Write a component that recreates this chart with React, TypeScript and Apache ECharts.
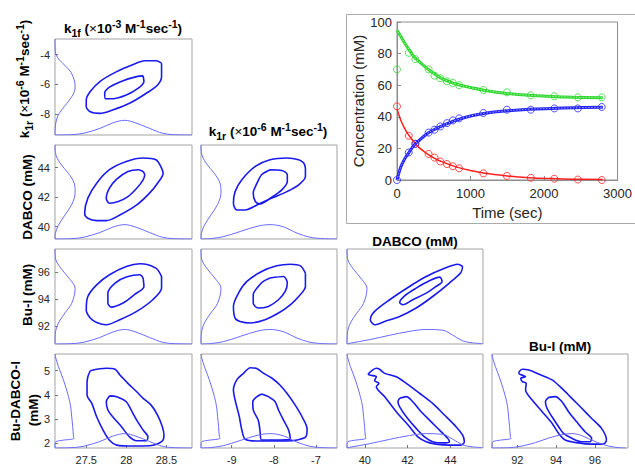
import React, { useEffect, useRef } from "react";
import * as echarts from "echarts";

// ---------- axis ranges ----------
const k1fRange = [27.11, 28.82];
const k1rRowRange = [-9.42, -2.94];
const k1rColRange = [-9.73, -6.5];
const dabcoRange = [39.17, 45.52];
const buiRange = [90.7, 97.7];
const bdiRange = [1.81, 5.69];

// ---------- marginal densities [value, relative density] ----------
const k1fDensity = [[27.11, 0], [27.3, 0.02], [27.46, 0.11], [27.67, 0.45], [27.83, 0.82], [27.98, 1], [28.12, 0.82], [28.29, 0.45], [28.46, 0.11], [28.66, 0.01], [28.82, 0]];
const k1rColDensity = [[-9.73, 0], [-9.5, 0.03], [-9.2, 0.16], [-8.8, 0.52], [-8.4, 0.88], [-8.09, 1], [-7.77, 0.84], [-7.45, 0.41], [-7.14, 0.12], [-6.8, 0.02], [-6.5, 0]];
const dabcoColDensity = [[39.16, 0], [39.3, 0.05], [40.23, 0.3], [41.16, 0.6], [42.09, 0.87], [42.87, 1], [43.64, 0.95], [44.1, 0.62], [44.57, 0.22], [45.03, 0.08], [45.5, 0.03]];
const buiColDensity = [[90.66, 0], [91.58, 0.02], [92.26, 0.14], [92.94, 0.38], [93.62, 0.69], [94.3, 0.93], [94.81, 1], [95.32, 0.86], [96.0, 0.45], [96.68, 0.14], [97.36, 0.01], [97.6, 0]];

const k1rRowDensity = [[-2.94, 0], [-3.6, 0.01], [-4.0, 0.05], [-4.4, 0.25], [-4.8, 0.55], [-5.2, 0.8], [-5.7, 0.95], [-6.1, 1], [-6.5, 0.96], [-6.9, 0.8], [-7.3, 0.58], [-7.7, 0.35], [-8.1, 0.15], [-8.6, 0.04], [-9.0, 0.01], [-9.42, 0]];
const dabcoRowDensity = [[45.54, 0], [45.0, 0.02], [44.3, 0.25], [43.6, 0.67], [42.95, 0.95], [42.3, 1], [41.5, 0.83], [40.8, 0.5], [40.1, 0.17], [39.55, 0.02], [39.17, 0]];
const buiRowDensity = [[97.7, 0], [97.03, 0.02], [96.2, 0.33], [95.45, 0.75], [94.8, 1], [93.7, 0.83], [93.0, 0.5], [92.25, 0.17], [91.5, 0.02], [90.73, 0]];
const bdiRowDensity = [[5.69, 0], [5.58, 0.02], [5.17, 0.17], [4.62, 0.42], [3.93, 0.67], [3.51, 0.78], [3.1, 0.83], [2.69, 0.88], [2.27, 0.92], [2.21, 0.95], [2.12, 0.3], [2.07, 0.05], [1.93, 0], [1.81, 0]];

// ---------- contours (outer / inner) ----------
const r1c1Outer = [[28.44, -4.57], [28.37, -4.41], [28.23, -4.41], [28.08, -4.68], [27.88, -5.14], [27.67, -5.81], [27.55, -6.49], [27.5, -7.06], [27.5, -7.51], [27.55, -7.85], [27.67, -7.96], [27.83, -7.73], [28.04, -7.28], [28.25, -6.6], [28.39, -6.04], [28.44, -5.48], [28.44, -4.8]];
const r1c1Inner = [[28.21, -5.43], [28.13, -5.48], [27.96, -5.75], [27.79, -6.19], [27.73, -6.6], [27.74, -6.97], [27.83, -6.97], [28.0, -6.72], [28.15, -6.26], [28.22, -5.81]];

const r2c1Outer = [[28.44, 43.96], [28.37, 44.52], [28.21, 44.64], [28.0, 44.41], [27.79, 43.85], [27.63, 42.94], [27.52, 41.93], [27.48, 40.91], [27.52, 40.57], [27.63, 40.41], [27.75, 40.41], [27.92, 40.79], [28.13, 41.47], [28.29, 42.27], [28.39, 42.94], [28.46, 43.62]];
const r2c1Inner = [[28.21, 43.73], [28.15, 43.85], [28.02, 43.73], [27.88, 43.21], [27.79, 42.6], [27.75, 41.93], [27.79, 41.59], [27.9, 41.7], [28.02, 42.03], [28.13, 42.6], [28.21, 43.17], [28.23, 43.51]];
const r2c2Outer = [[-7.25, 43.96], [-7.29, 44.3], [-7.41, 44.52], [-7.69, 44.64], [-8.09, 44.52], [-8.44, 44.07], [-8.76, 43.17], [-8.92, 42.37], [-8.96, 41.59], [-8.88, 41.13], [-8.68, 41.13], [-8.4, 41.47], [-8.05, 41.93], [-7.69, 42.37], [-7.41, 42.83], [-7.25, 43.39]];
const r2c2Inner = [[-8.09, 43.85], [-7.81, 43.8], [-7.68, 43.51], [-7.68, 43.05], [-7.81, 42.49], [-8.05, 41.99], [-8.33, 41.54], [-8.44, 41.7], [-8.49, 42.27], [-8.4, 42.94], [-8.29, 43.51]];

const r3c1Outer = [[28.44, 95.67], [28.37, 96.29], [28.17, 96.61], [28.0, 96.41], [27.79, 95.8], [27.63, 95.06], [27.52, 94.2], [27.5, 93.22], [27.55, 92.61], [27.63, 92.29], [27.75, 92.12], [27.92, 92.49], [28.13, 93.1], [28.33, 93.96], [28.44, 94.82], [28.44, 95.43]];
const r3c1Inner = [[28.21, 95.56], [28.17, 95.8], [28.0, 95.63], [27.86, 95.19], [27.77, 94.45], [27.77, 93.72], [27.81, 93.42], [27.96, 93.72], [28.1, 94.33], [28.22, 94.94]];
const r3c2Outer = [[-7.25, 95.92], [-7.37, 96.46], [-7.61, 96.58], [-7.93, 96.46], [-8.29, 96.04], [-8.64, 95.31], [-8.84, 94.45], [-8.96, 93.47], [-8.92, 92.61], [-8.8, 92.36], [-8.56, 92.25], [-8.21, 92.49], [-7.89, 92.98], [-7.61, 93.59], [-7.41, 94.2], [-7.25, 94.94]];
const r3c2Inner = [[-8.09, 95.56], [-7.77, 95.67], [-7.68, 95.19], [-7.73, 94.57], [-7.89, 93.96], [-8.13, 93.47], [-8.37, 93.35], [-8.49, 93.72], [-8.49, 94.33], [-8.37, 94.94], [-8.25, 95.31]];
const r3c3Outer = [[44.57, 96.41], [44.34, 96.58], [43.64, 96.22], [42.87, 95.67], [42.09, 94.94], [41.16, 93.96], [40.46, 93.1], [40.26, 92.49], [40.46, 92.12], [40.93, 92.36], [41.63, 92.73], [42.4, 93.35], [43.17, 94.2], [43.95, 95.19], [44.49, 95.97]];
const r3c3Inner = [[43.56, 95.56], [43.49, 95.63], [43.02, 95.36], [42.4, 94.82], [41.86, 94.25], [41.63, 93.76], [41.78, 93.59], [42.24, 93.96], [42.87, 94.45], [43.33, 94.94], [43.61, 95.31]];

const r4c1Outer = [[27.55, 5.0], [27.75, 5.1], [27.86, 5.06], [27.92, 4.82], [28.02, 4.48], [28.13, 4.13], [28.21, 3.86], [28.31, 3.58], [28.39, 3.17], [28.45, 2.69], [28.47, 2.34], [28.44, 2.07], [28.29, 1.9], [28.08, 1.89], [27.88, 1.93], [27.79, 2.13], [27.71, 2.55], [27.63, 3.1], [27.57, 3.65], [27.51, 4.0], [27.51, 4.48], [27.52, 4.75]];
const r4c1Inner = [[27.79, 3.96], [27.88, 3.93], [28.0, 3.72], [28.06, 3.38], [28.13, 2.96], [28.21, 2.55], [28.27, 2.27], [28.25, 2.11], [28.13, 2.11], [28.04, 2.27], [27.94, 2.69], [27.83, 3.1], [27.77, 3.38], [27.75, 3.72]];
const r4c2Outer = [[-8.72, 4.89], [-8.55, 5.12], [-8.42, 5.1], [-8.25, 4.9], [-8.05, 4.7], [-7.85, 4.4], [-7.68, 4.05], [-7.5, 3.6], [-7.33, 3.1], [-7.21, 2.6], [-7.24, 2.27], [-7.45, 2.14], [-7.69, 2.1], [-8.09, 2.1], [-8.4, 2.1], [-8.68, 2.17], [-8.76, 2.55], [-8.82, 3.1], [-8.92, 3.79], [-8.96, 4.2], [-8.88, 4.62]];
const r4c2Inner = [[-8.29, 4.04], [-8.13, 3.93], [-7.97, 3.72], [-7.89, 3.38], [-7.77, 2.96], [-7.65, 2.55], [-7.61, 2.17], [-7.85, 2.14], [-8.29, 2.14], [-8.33, 2.55], [-8.37, 2.96], [-8.49, 3.38], [-8.5, 3.72], [-8.4, 3.93]];
const r4c3Outer = [[40.15, 4.86], [40.54, 5.1], [40.69, 5.06], [40.93, 4.89], [41.47, 4.75], [41.94, 4.48], [42.56, 4.07], [43.17, 3.65], [43.72, 3.17], [44.26, 2.69], [44.57, 2.34], [44.65, 2.07], [44.49, 1.93], [43.95, 1.93], [43.33, 1.97], [42.87, 2.07], [42.48, 2.27], [42.09, 2.69], [41.47, 3.31], [40.93, 3.93], [40.54, 4.34], [40.66, 4.48], [40.46, 4.59], [40.54, 4.75], [40.23, 4.82]];
const r4c3Inner = [[41.63, 3.86], [41.94, 3.93], [42.24, 3.72], [42.56, 3.38], [43.02, 2.96], [43.49, 2.55], [43.87, 2.21], [43.95, 2.07], [43.64, 2.02], [43.17, 2.07], [42.79, 2.27], [42.4, 2.62], [41.94, 3.1], [41.63, 3.51], [41.55, 3.72]];
const r4c4Outer = [[92.09, 4.96], [92.26, 5.06], [92.6, 5.03], [93.11, 4.86], [93.79, 4.62], [94.3, 4.27], [94.81, 3.86], [95.32, 3.45], [95.83, 3.03], [96.34, 2.62], [96.59, 2.14], [96.43, 1.97], [95.83, 1.97], [95.15, 2.02], [94.47, 2.14], [94.13, 2.41], [93.79, 2.83], [93.28, 3.31], [92.77, 3.79], [92.43, 4.2], [92.46, 4.48], [92.26, 4.55], [92.18, 4.69], [92.43, 4.75], [92.09, 4.89]];
const r4c4Inner = [[93.62, 3.9], [93.96, 3.93], [94.3, 3.72], [94.64, 3.31], [95.06, 2.89], [95.49, 2.48], [95.83, 2.21], [95.75, 2.07], [95.32, 2.07], [94.81, 2.21], [94.38, 2.41], [94.13, 2.69], [93.79, 3.1], [93.53, 3.45], [93.45, 3.72]];

// ---------- inset: concentration vs time ----------
const sampleTimes = [0, 160, 250, 430, 510, 590, 680, 760, 845, 1175, 1495, 1820, 2140, 2460, 2785];
const buIMeasured = [70, 80.5, 76.5, 70, 66, 64.4, 62.5, 61.4, 60, 57, 55.5, 53.6, 53, 52.3, 52.3];
const dabcoMeasured = [46.6, 28, 22.9, 16.5, 14.2, 11.7, 10.1, 8.7, 7.4, 4.2, 2.6, 1.4, 0.8, 0.3, 0];
const productMeasured = [0, 17.4, 22.9, 30, 31.8, 33.9, 36, 37.7, 39, 42.4, 44.5, 44.5, 45.3, 45.3, 46.2];

const fitTimes = [0, 50, 100, 150, 200, 250, 300, 400, 500, 600, 700, 800, 1000, 1200, 1500, 1800, 2100, 2400, 2800];
const buIFit = [95, 91, 87, 83.5, 80, 77, 75, 71, 67.5, 64.5, 62.5, 60.8, 58.5, 56.7, 54.8, 53.6, 52.9, 52.4, 52];
const dabcoFit = [45, 38, 33, 29, 26, 23, 20.5, 17, 14, 11.8, 10, 8.3, 6, 4.2, 2.6, 1.5, 0.9, 0.5, 0.3];
const productFit = [0, 8, 13, 16.5, 20, 23, 25, 29, 31.8, 34, 36, 37.8, 40.5, 42.3, 43.8, 44.8, 45.3, 45.7, 46];

// ---------- layout / style ----------
const FONT = "Liberation Sans, Arial, Helvetica, sans-serif";
const colLeft = [55, 201, 347, 492];
const colWidth = [137, 136, 136, 136];
const rowTop = [39, 145, 249, 354];
const rowHeight = [96, 94, 95, 94];

const colVars = [
  { range: k1fRange, density: k1fDensity, split: 3 },
  { range: k1rColRange, density: k1rColDensity, split: 3 },
  { range: dabcoRange, density: dabcoColDensity, split: 3 },
  { range: buiRange, density: buiColDensity, split: 3 },
];
const rowVars = [
  { range: k1rRowRange, density: k1rRowDensity, split: 3 },
  { range: dabcoRange, density: dabcoRowDensity, split: 3 },
  { range: buiRange, density: buiRowDensity, split: 3 },
  { range: bdiRange, density: bdiRowDensity, split: 4 },
];

const panels = [
  { r: 0, c: 0, outer: r1c1Outer, inner: r1c1Inner },
  { r: 1, c: 0, outer: r2c1Outer, inner: r2c1Inner },
  { r: 1, c: 1, outer: r2c2Outer, inner: r2c2Inner },
  { r: 2, c: 0, outer: r3c1Outer, inner: r3c1Inner },
  { r: 2, c: 1, outer: r3c2Outer, inner: r3c2Inner },
  { r: 2, c: 2, outer: r3c3Outer, inner: r3c3Inner },
  { r: 3, c: 0, outer: r4c1Outer, inner: r4c1Inner },
  { r: 3, c: 1, outer: r4c2Outer, inner: r4c2Inner },
  { r: 3, c: 2, outer: r4c3Outer, inner: r4c3Inner },
  { r: 3, c: 3, outer: r4c4Outer, inner: r4c4Inner },
];

const rich = {
  b: { fontWeight: "bold", fontSize: 13.5, lineHeight: 20, verticalAlign: "middle", fontFamily: FONT, color: "#000" },
  n: { fontWeight: "normal", fontSize: 13.5, lineHeight: 20, verticalAlign: "middle", fontFamily: FONT, color: "#000" },
  bp: { fontWeight: "bold", fontSize: 10.5, lineHeight: 9, verticalAlign: "top", fontFamily: FONT, color: "#000" },
  bs: { fontWeight: "bold", fontSize: 10.5, lineHeight: 9, verticalAlign: "bottom", fontFamily: FONT, color: "#000" },
};

function label(x: number, y: number, text: string, rotate = false) {
  return {
    type: "text",
    x,
    y,
    rotation: rotate ? Math.PI / 2 : 0,
    style: { text, rich, align: "center", verticalAlign: "middle", fontFamily: FONT },
    silent: true,
  };
}

export default function App() {
  const ref = useRef<HTMLDivElement>(null);
  useEffect(() => {
    if (!ref.current) return;
    const chart = echarts.init(ref.current, undefined, { renderer: "svg" });
    const grids: any[] = [];
    const xAxes: any[] = [];
    const yAxes: any[] = [];
    const series: any[] = [];
    const closed = (a: number[][]) => [...a, a[0]];

    panels.forEach((p, i) => {
      const xv = colVars[p.c];
      const yv = rowVars[p.r];
      grids.push({
        left: colLeft[p.c], top: rowTop[p.r], width: colWidth[p.c], height: rowHeight[p.r],
        show: true, borderColor: "#a3a3a3", borderWidth: 1, backgroundColor: "#fff",
      });
      xAxes.push({
        type: "value", gridIndex: i, min: xv.range[0], max: xv.range[1], splitNumber: xv.split,
        axisLine: { show: false }, splitLine: { show: false },
        axisTick: { show: p.r === 3, inside: true, length: 3, lineStyle: { color: "#777" } },
        axisLabel: { show: p.r === 3, showMinLabel: false, showMaxLabel: false, fontSize: 11, color: "#262626", margin: 6, fontFamily: FONT },
      });
      yAxes.push({
        type: "value", gridIndex: i, min: yv.range[0], max: yv.range[1], splitNumber: yv.split,
        axisLine: { show: false }, splitLine: { show: false },
        axisTick: { show: p.c === 0, inside: true, length: 3, lineStyle: { color: "#777" } },
        axisLabel: { show: p.c === 0, showMinLabel: false, showMaxLabel: false, fontSize: 11, color: "#262626", margin: 5, fontFamily: FONT },
      });
      const common = { type: "line", xAxisIndex: i, yAxisIndex: i, showSymbol: false, silent: true, animation: false };
      series.push({ ...common, data: closed(p.outer), smooth: 0.3, lineStyle: { color: "#1a1aee", width: 1.6 } });
      series.push({ ...common, data: closed(p.inner), smooth: 0.3, lineStyle: { color: "#1a1aee", width: 1.6 } });
      const xs = xv.range[1] - xv.range[0];
      const ys = yv.range[1] - yv.range[0];
      series.push({
        ...common, smooth: 0.35,
        data: yv.density.map(([v, d]) => [xv.range[0] + d * 0.147 * xs, v]),
        lineStyle: { color: "#6b6bff", width: 1 },
      });
      series.push({
        ...common, smooth: 0.35,
        data: xv.density.map(([v, d]) => [v, yv.range[0] + d * 0.153 * ys]),
        lineStyle: { color: "#6b6bff", width: 1 },
      });
    });

    // inset
    const gi = panels.length;
    grids.push({ left: 397, top: 22, width: 222, height: 158, show: true, borderColor: "#8c8c8c", borderWidth: 1, backgroundColor: "#fff" });
    xAxes.push({
      type: "value", gridIndex: gi, min: 0, max: 3000, interval: 1000,
      name: "Time (sec)", nameLocation: "middle", nameGap: 25,
      nameTextStyle: { fontSize: 15, color: "#262626", fontFamily: FONT },
      axisLine: { show: true, lineStyle: { color: "#8c8c8c" } }, splitLine: { show: false },
      axisTick: { show: true, inside: true, length: 4, lineStyle: { color: "#8c8c8c" } },
      axisLabel: { fontSize: 13, color: "#262626", margin: 7, fontFamily: FONT, formatter: (v: number) => String(v) },
    });
    yAxes.push({
      type: "value", gridIndex: gi, min: 0, max: 100, interval: 20,
      name: "Concentration (mM)", nameLocation: "middle", nameGap: 31, nameRotate: 90,
      nameTextStyle: { fontSize: 15, color: "#262626", fontFamily: FONT },
      axisLine: { show: true, lineStyle: { color: "#8c8c8c" } }, splitLine: { show: false },
      axisTick: { show: true, inside: true, length: 4, lineStyle: { color: "#8c8c8c" } },
      axisLabel: { fontSize: 13, color: "#262626", margin: 5, fontFamily: FONT, formatter: (v: number) => String(v) },
    });
    const insetSets = [
      { color: "#2fd82f", meas: buIMeasured, fit: buIFit, band: true },
      { color: "#ff1f1f", meas: dabcoMeasured, fit: dabcoFit, band: false },
      { color: "#2323ff", meas: productMeasured, fit: productFit, band: true },
    ];
    insetSets.forEach((s) => {
      series.push({
        type: "line", xAxisIndex: gi, yAxisIndex: gi, showSymbol: false, silent: true, smooth: 0.4,
        data: fitTimes.map((t, k) => [t, s.fit[k]]),
        lineStyle: { color: s.color, width: s.band ? 3 : 1.5 },
      });
      if (s.band) {
        series.push({
          type: "line", xAxisIndex: gi, yAxisIndex: gi, showSymbol: false, silent: true, smooth: 0.4,
          data: fitTimes.map((t, k) => [t, s.fit[k]]),
          lineStyle: { color: "#ffffff", width: 0.8, type: [1, 2] },
        });
      }
      series.push({
        type: "scatter", xAxisIndex: gi, yAxisIndex: gi, silent: true,
        data: sampleTimes.map((t, k) => [t, s.meas[k]]),
        symbol: "circle", symbolSize: 7,
        itemStyle: { color: "rgba(0,0,0,0)", borderColor: s.color, borderWidth: 1 },
      });
    });

    const graphic = [
      { type: "rect", shape: { x: 346.5, y: 14.5, width: 300, height: 209 }, style: { fill: "none", stroke: "#aaaaaa", lineWidth: 1 }, silent: true, z: -1 },
      label(123, 28, "{b|k}{bs|1f}{b| (}{n|×}{b|10}{bp|-3}{b| M}{bp|-1}{b|sec}{bp|-1}{b|)}"),
      label(268, 131, "{b|k}{bs|1r}{b| (}{n|×}{b|10}{bp|-6}{b| M}{bp|-1}{b|sec}{bp|-1}{b|)}"),
      label(415, 241, "{b|DABCO (mM)}"),
      label(560, 346, "{b|Bu-I (mM)}"),
      label(24, 79, "{b|k}{bs|1r}{b| (}{n|×}{b|10}{bp|-6}{b| M}{bp|-1}{b|sec}{bp|-1}{b|)}", true),
      label(27, 197, "{b|DABCO (mM)}", true),
      label(27.5, 295, "{b|Bu-I (mM)}", true),
      label(15, 401, "{b|Bu-DABCO-I}", true),
      label(33, 410, "{b|(mM)}", true),
    ];

    chart.setOption({
      animation: false,
      backgroundColor: "#fff",
      textStyle: { fontFamily: FONT },
      grid: grids,
      xAxis: xAxes,
      yAxis: yAxes,
      series,
      graphic,
    });
    return () => chart.dispose();
  }, []);
  return <div ref={ref} style={{ position: "absolute", left: 0, top: 0, width: 635, height: 466 }} />;
}
